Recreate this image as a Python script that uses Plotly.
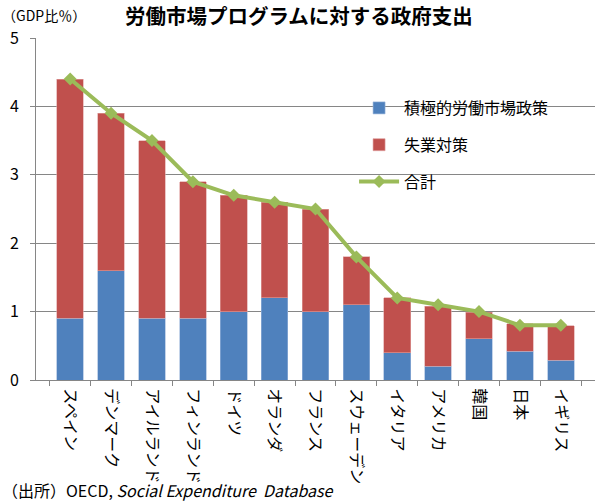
import plotly.graph_objects as go

categories = ["スペイン", "デンマーク", "アイルランド", "フィンランド", "ドイツ", "オランダ",
              "フランス", "スウェーデン", "イタリア", "アメリカ", "韓国", "日本", "イギリス"]
active = [0.9, 1.6, 0.9, 0.9, 1.0, 1.2, 1.0, 1.1, 0.4, 0.2, 0.6, 0.42, 0.29]
unemployment = [3.5, 2.3, 2.6, 2.0, 1.7, 1.4, 1.5, 0.7, 0.8, 0.88, 0.39, 0.4, 0.5]
total = [4.4, 3.9, 3.5, 2.9, 2.7, 2.6, 2.5, 1.8, 1.2, 1.1, 1.0, 0.8, 0.8]

FONT = "Noto Sans CJK JP"

fig = go.Figure()
fig.add_trace(go.Bar(x=categories, y=active, name="積極的労働市場政策", legendgroup="a",
                     marker=dict(color="#4F81BD", line=dict(color="#9BB5DA", width=0.6)),
                     width=0.65))
fig.add_trace(go.Bar(x=categories, y=unemployment, name="失業対策", legendgroup="b",
                     marker=dict(color="#C0504D", line=dict(color="#E0A0A0", width=0.6)),
                     width=0.65))
fig.add_trace(go.Scatter(x=categories, y=total, name="合計", mode="lines+markers", legendgroup="c",
                         line=dict(color="#9BBB59", width=4),
                         marker=dict(symbol="diamond", size=10, color="#9BBB59")))

fig.update_layout(
    barmode="stack",
    width=595, height=504,
    margin=dict(l=36, r=0, t=38, b=124),
    plot_bgcolor="white", paper_bgcolor="white",
    font=dict(family=FONT, size=14, color="black"),
    showlegend=True,
    legend=dict(x=0.569, y=0.845, xanchor="left", yanchor="top",
                bgcolor="rgba(0,0,0,0)", font=dict(size=16, family=FONT),
                traceorder="grouped", itemwidth=40, tracegroupgap=13),
    title=dict(text="<b>労働市場プログラムに対する政府支出</b>", xref="container", yref="container",
               x=0.21, xanchor="left", y=0.966, yanchor="middle",
               font=dict(size=20.5, family=FONT, color="black")),
    annotations=[
        dict(text="（GDP比％）", xref="paper", yref="paper", x=-0.064, y=1.066,
             xanchor="left", yanchor="middle", showarrow=False, font=dict(size=14, family=FONT)),
        dict(text="（出所）OECD, <i>Social Expenditure  Database</i>", xref="paper", yref="paper",
             x=-0.064, y=-0.322, xanchor="left", yanchor="middle", showarrow=False,
             font=dict(size=16, family=FONT)),
    ],
)
fig.update_xaxes(tickangle=90, showline=True, linecolor="#868686", linewidth=1,
                 ticks="outside", tickson="boundaries", ticklen=5, tickcolor="#868686",
                 ticklabelstandoff=4, tickfont=dict(size=16, family=FONT))
fig.update_yaxes(range=[0, 5], dtick=1, showgrid=True, gridcolor="#868686", gridwidth=1,
                 showline=True, linecolor="#868686", linewidth=1, ticks="outside",
                 ticklen=5, tickcolor="#868686", ticklabelstandoff=8,
                 tickfont=dict(size=16, family=FONT), zeroline=False)

fig.write_html("out.html", config={"displayModeBar": False},
               post_script="document.body.style.margin='0';")
